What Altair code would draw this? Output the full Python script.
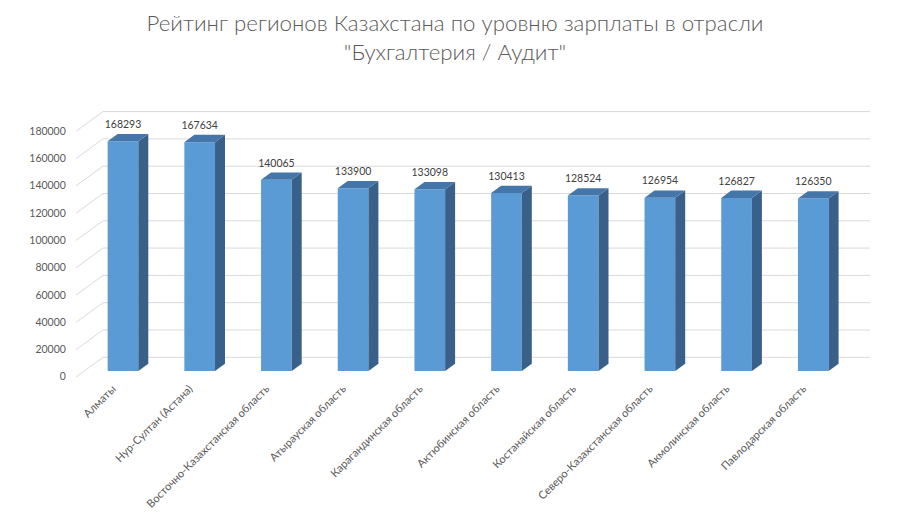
import json
import altair as alt
import pandas as pd

# ---- data ----
categories = [
    "Алматы",
    "Нур-Султан (Астана)",
    "Восточно-Казахстанская область",
    "Атырауская область",
    "Карагандинская область",
    "Актюбинская область",
    "Костанайская область",
    "Северо-Казахстанская область",
    "Акмолинская область",
    "Павлодарская область",
]
values = [168293, 167634, 140065, 133900, 133098, 130413, 128524, 126954, 126827, 126350]
y_ticks = [0, 20000, 40000, 60000, 80000, 100000, 120000, 140000, 160000, 180000]
title_lines = ["Рейтинг регионов Казахстана по уровню зарплаты в отрасли", "\"Бухгалтерия / Аудит\""]

# ---- 3D look parameters (in scale units) ----
HALF = 0.2        # half width of bar front face (category units)
DX = 0.13         # depth shift in x
DY = 5350         # depth shift in y (value units)
BASE = 4400       # bar floor above the front wall line
BACK = 14440      # back wall shift above front wall
WALL_X0, WALL_X1, WALL_X2 = -0.613, -0.261, 9.739

FONT = "Lato"
TXT = "#595959"

front_rows, side_rows, top_rows, lab_rows = [], [], [], []
for i, (c, v) in enumerate(zip(categories, values)):
    x0, x1 = i - HALF, i + HALF
    front_rows.append(dict(cat=c, x=x0, x2=x1, y=BASE, y2=BASE + v))
    side_rows += [
        dict(cat=c, x=x1, y=BASE, y2=BASE + v),
        dict(cat=c, x=x1 + DX, y=BASE + DY, y2=BASE + v + DY),
    ]
    top_rows += [
        dict(cat=c, x=x0, y=BASE + v, y2=BASE + v),
        dict(cat=c, x=x0 + DX, y=BASE + v, y2=BASE + v + DY),
        dict(cat=c, x=x1, y=BASE + v, y2=BASE + v + DY),
        dict(cat=c, x=x1 + DX, y=BASE + v + DY, y2=BASE + v + DY),
    ]
    lab_rows.append(dict(cat=c, x=i, y=BASE + v + DY, label=str(v)))

grid_rows = []
for t in y_ticks:
    grid_rows += [
        dict(t=t, o=0, x=WALL_X0, y=t),
        dict(t=t, o=1, x=WALL_X1, y=t + BACK),
        dict(t=t, o=2, x=WALL_X2, y=t + BACK),
    ]

xscale = alt.Scale(domain=[-0.7, 9.8], nice=False, zero=False)
yscale = alt.Scale(domain=[0, 200000], nice=False)

label_expr = json.dumps(categories, ensure_ascii=False) + "[datum.value]"

x_axis = alt.Axis(
    values=list(range(len(categories))), labelExpr=label_expr, title=None,
    labelAngle=-45, labelAlign="right", labelBaseline="middle", labelPadding=10,
    labelOffset=-9,
    domain=False, ticks=False, grid=False, labelFont=FONT, labelFontSize=11,
    labelColor=TXT, labelOverlap=False, labelFlush=False, labelLimit=0,
)
y_axis = alt.Axis(
    values=y_ticks, format="d", title=None, domain=False, ticks=False, grid=False,
    labelFont=FONT, labelFontSize=10.5, labelColor=TXT, labelPadding=4,
    labelOverlap=False, labelFlush=False,
)


def X(field="x"):
    return alt.X(f"{field}:Q", scale=xscale, axis=x_axis)


def Y(field="y"):
    return alt.Y(f"{field}:Q", scale=yscale, axis=y_axis, stack=None)


grid = alt.Chart(pd.DataFrame(grid_rows)).mark_line(color="#D9D9D9", strokeWidth=1).encode(
    x=X(), y=Y(), detail="t:N", order="o:Q",
)

front = alt.Chart(pd.DataFrame(front_rows)).mark_bar(color="#5B9BD5").encode(
    x=X(), x2="x2:Q", y=Y(), y2="y2:Q",
)

side = alt.Chart(pd.DataFrame(side_rows)).mark_area(color="#386089").encode(
    x=X(), y=Y(), y2="y2:Q", detail="cat:N",
)

top = alt.Chart(pd.DataFrame(top_rows)).mark_area(color="#4576AA").encode(
    x=X(), y=Y(), y2="y2:Q", detail="cat:N",
)

labels = alt.Chart(pd.DataFrame(lab_rows)).mark_text(
    font=FONT, fontSize=10.5, color="#404040", baseline="bottom", dy=-4
).encode(
    x=X(), y=Y(), text="label:N",
)

chart = alt.layer(grid, front, side, top, labels).properties(
    width=805.35,
    height=273,
    autosize=alt.AutoSizeParams(type="none"),
    padding={"left": 61.3, "top": 96, "right": 20, "bottom": 132},
    title=alt.TitleParams(
        text=title_lines, font=FONT, fontSize=22.3, fontWeight=300, color=TXT,
        anchor="middle", frame="group", dx=-17, offset=40, lineHeight=29,
    ),
    background="white",
).configure_view(stroke=None)

chart.save("out.html", embed_options={"renderer": "svg", "actions": False})
